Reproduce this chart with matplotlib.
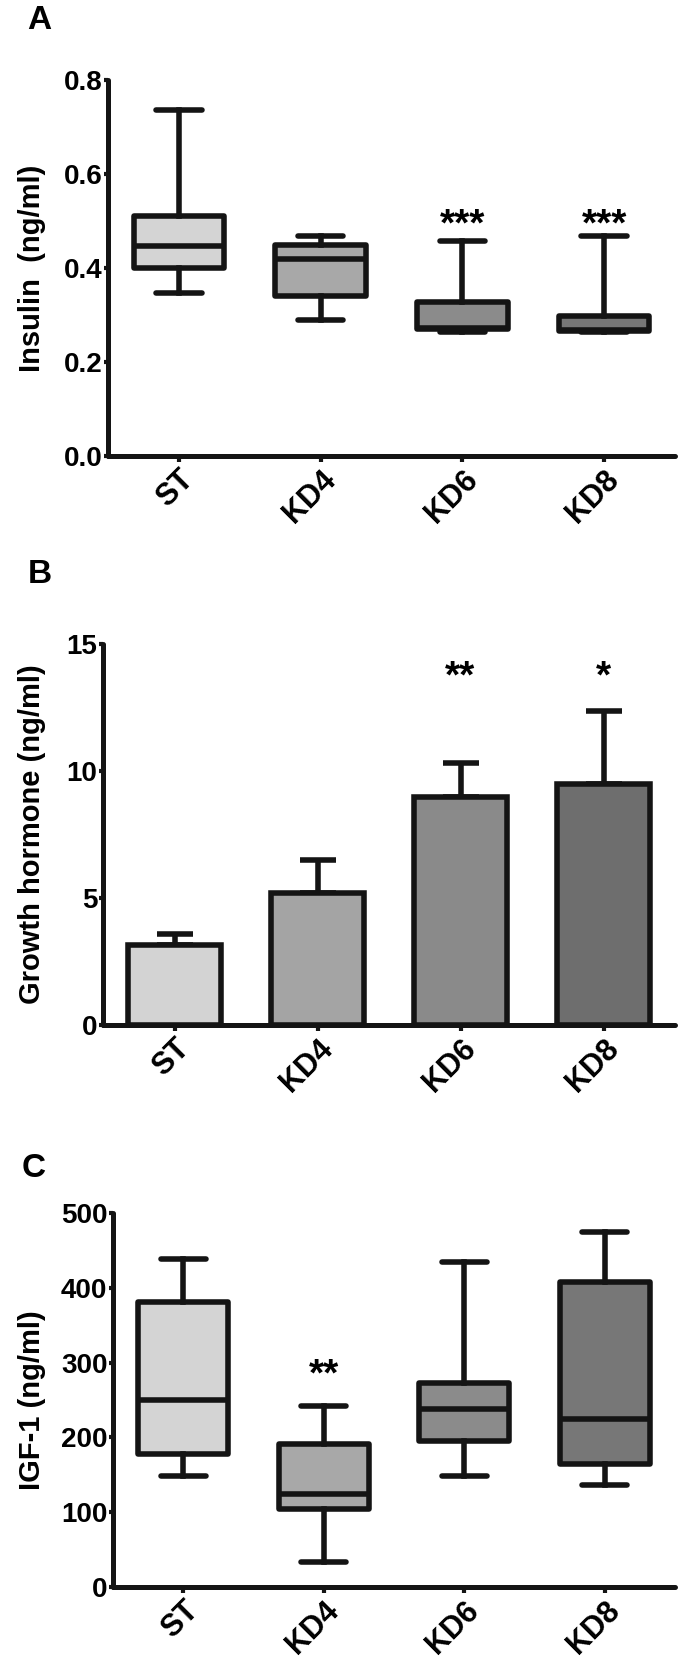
import numpy as np
import matplotlib
matplotlib.use('Agg')
import matplotlib.pyplot as plt

plt.rcParams['font.family'] = ['Liberation Sans', 'DejaVu Sans']
plt.rcParams['font.weight'] = 'bold'

groups = ['ST', 'KD4', 'KD6', 'KD8']
box_fills = ['#d4d4d4', '#a8a8a8', '#8b8b8b', '#777777']
bar_fills = ['#d3d3d3', '#a4a4a4', '#8a8a8a', '#6e6e6e']
INK = '#141414'
LW = 4

# A: insulin (ng/ml) - box plot stats
ins_min = [0.347, 0.290, 0.264, 0.264]
ins_q1 = [0.400, 0.341, 0.270, 0.266]
ins_med = [0.446, 0.420, 0.272, 0.268]
ins_q3 = [0.511, 0.449, 0.328, 0.298]
ins_max = [0.736, 0.469, 0.457, 0.469]
ins_stars = ['', '', '***', '***']

# B: growth hormone (ng/ml) - mean + error
gh_mean = [3.14, 5.18, 8.97, 9.48]
gh_err = [0.46, 1.30, 1.34, 2.89]
gh_stars = ['', '', '**', '*']

# C: IGF-1 (ng/ml) - box plot stats
igf_min = [148, 34, 148, 137]
igf_q1 = [178, 104, 195, 164]
igf_med = [250, 124, 238, 224]
igf_q3 = [381, 191, 273, 408]
igf_max = [438, 242, 434, 474]
igf_stars = ['', '**', '', '']

fig = plt.figure(figsize=(6.85, 16.77), dpi=100)
W, H = 685, 1677


def make_ax(left, top, bottom, right=675):
    return fig.add_axes([left / W, 1 - bottom / H, (right - left) / W, (bottom - top) / H])


def style(ax, ylim, yticks, ylabels, ylabel, left):
    ax.set_xlim(-0.5, 3.5)
    ax.set_ylim(*ylim)
    ax.spines[['top', 'right']].set_visible(False)
    for s in ['left', 'bottom']:
        ax.spines[s].set_linewidth(3.6)
        ax.spines[s].set_color(INK)
        ax.spines[s].set_capstyle('round')
    ax.set_yticks(yticks, ylabels)
    ax.set_xticks(range(len(groups)), groups, rotation=45, ha='right', va='top',
                  rotation_mode='anchor')
    ax.tick_params(axis='y', direction='out', length=3, width=3, pad=1,
                   labelsize=20, color=INK)
    ax.tick_params(axis='x', direction='out', length=4, width=3, pad=2,
                   labelsize=22, color=INK)
    ax.set_ylabel(ylabel, fontsize=21, fontweight='bold')
    ax.yaxis.set_label_coords((46 - left) / (675 - left), 0.5)


def boxes(ax, mins, q1, med, q3, maxs):
    stats = [dict(whislo=a, q1=b, med=c, q3=d, whishi=e)
             for a, b, c, d, e in zip(mins, q1, med, q3, maxs)]
    bp = ax.bxp(stats, positions=range(len(stats)), widths=0.64, capwidths=0.32,
                patch_artist=True, showfliers=False,
                boxprops=dict(linewidth=LW, edgecolor=INK),
                whiskerprops=dict(linewidth=LW, color=INK),
                capprops=dict(linewidth=LW, color=INK, solid_capstyle='round'),
                medianprops=dict(linewidth=LW, color=INK))
    for patch, c in zip(bp['boxes'], box_fills):
        patch.set_facecolor(c)
        patch.set_joinstyle('round')


def stars(ax, labels, y):
    for i, s in enumerate(labels):
        if s:
            ax.annotate(s, (i, y), xytext=(0, -16), textcoords='offset points',
                        ha='center', va='baseline', fontsize=28, fontweight='bold')


# --- A ---
axA = make_ax(108, 80, 456)
boxes(axA, ins_min, ins_q1, ins_med, ins_q3, ins_max)
stars(axA, ins_stars, 0.517)
style(axA, (0, 0.8), [0, 0.2, 0.4, 0.6, 0.8], ['0.0', '0.2', '0.4', '0.6', '0.8'],
      'Insulin  (ng/ml)', 108)

# --- B ---
axB = make_ax(103, 644, 1025)
x = np.arange(len(groups))
axB.errorbar(x, gh_mean, yerr=[np.zeros(len(x)), gh_err], fmt='none', ecolor=INK,
             elinewidth=LW, capsize=13, capthick=LW, zorder=1)
axB.bar(x, gh_mean, width=0.65, color=bar_fills, edgecolor=INK, linewidth=LW, zorder=2)
stars(axB, gh_stars, 14.15)
style(axB, (0, 15), [0, 5, 10, 15], ['0', '5', '10', '15'],
      'Growth hormone (ng/ml)', 103)

# --- C ---
axC = make_ax(113, 1213, 1587)
boxes(axC, igf_min, igf_q1, igf_med, igf_q3, igf_max)
stars(axC, igf_stars, 299)
style(axC, (0, 500), [0, 100, 200, 300, 400, 500], ['0', '100', '200', '300', '400', '500'],
      'IGF-1 (ng/ml)', 113)

for letter, px, py in [('A', 27, 29), ('B', 28, 583), ('C', 22, 1177)]:
    fig.text(px / W, 1 - py / H, letter, fontsize=24, fontweight='bold', va='baseline')

fig.savefig('out.png', dpi=100)
